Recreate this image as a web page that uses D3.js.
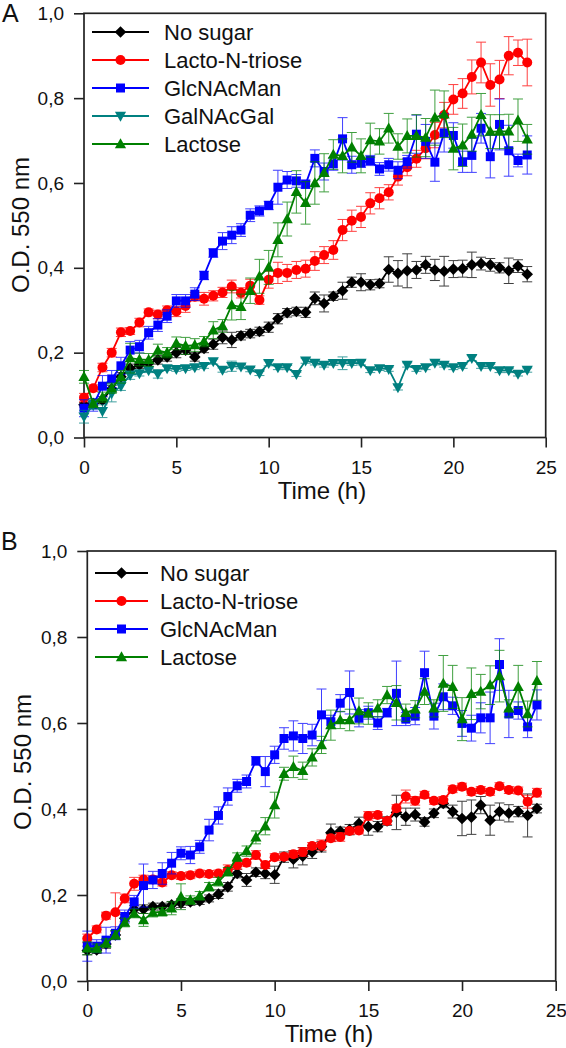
<!DOCTYPE html>
<html>
<head>
<meta charset="utf-8">
<script src="https://cdn.jsdelivr.net/npm/d3@7"></script>
<style>
  html, body { margin: 0; padding: 0; background: #fff; }
  svg { display: block; }
  text { font-family: "Liberation Sans", Arial, sans-serif; fill: #111; }
</style>
</head>
<body>
<script>
// ---------------- DATA ----------------
const time = [0,0.5,1,1.5,2,2.5,3,3.5,4,4.5,5,5.5,6,6.5,7,7.5,8,8.5,9,9.5,10,10.5,11,11.5,12,12.5,13,13.5,14,14.5,15,15.5,16,16.5,17,17.5,18,18.5,19,19.5,20,20.5,21,21.5,22,22.5,23,23.5,24];

const xTicks = [0,5,10,15,20,25];
const xTickLabels = ["0","5","10","15","20","25"];
const yTicks = [0,0.2,0.4,0.6,0.8,1.0];
const yTickLabels = ["0,0","0,2","0,4","0,6","0,8","1,0"];
const xTitle = "Time (h)";
const yTitle = "O.D. 550 nm";

// Panel A
const A_noSugar = [0.077,0.080,0.088,0.115,0.143,0.163,0.171,0.175,0.183,0.190,0.200,0.206,0.190,0.210,0.220,0.236,0.230,0.240,0.245,0.250,0.260,0.280,0.294,0.297,0.295,0.328,0.316,0.333,0.346,0.366,0.366,0.360,0.363,0.396,0.387,0.393,0.395,0.407,0.395,0.392,0.397,0.398,0.407,0.410,0.407,0.400,0.393,0.404,0.385];
const A_noSugarErr = [0.005,0.005,0.008,0.008,0.01,0.01,0.008,0.008,0.01,0.01,0.012,0.01,0.01,0.01,0.012,0.015,0.018,0.01,0.01,0.01,0.012,0.012,0.01,0.01,0.012,0.015,0.02,0.01,0.02,0.012,0.02,0.012,0.01,0.03,0.03,0.04,0.02,0.02,0.025,0.035,0.02,0.02,0.03,0.015,0.015,0.012,0.03,0.015,0.018];

const A_lnt = [0.094,0.116,0.165,0.200,0.248,0.251,0.271,0.295,0.290,0.300,0.297,0.310,0.332,0.327,0.334,0.342,0.356,0.341,0.358,0.324,0.372,0.388,0.388,0.395,0.398,0.416,0.430,0.442,0.489,0.511,0.520,0.552,0.564,0.578,0.615,0.637,0.657,0.682,0.713,0.760,0.797,0.811,0.850,0.884,0.831,0.844,0.900,0.907,0.884];
const A_lntErr = [0.01,0.008,0.01,0.01,0.01,0.008,0.01,0.008,0.01,0.01,0.012,0.015,0.01,0.015,0.012,0.012,0.015,0.012,0.015,0.01,0.02,0.025,0.02,0.02,0.02,0.022,0.02,0.022,0.025,0.025,0.025,0.025,0.025,0.018,0.02,0.02,0.02,0.025,0.03,0.03,0.035,0.035,0.04,0.048,0.05,0.045,0.045,0.03,0.055];

const A_glc = [0.069,0.077,0.121,0.138,0.169,0.206,0.214,0.247,0.265,0.286,0.322,0.322,0.338,0.382,0.435,0.463,0.477,0.489,0.524,0.534,0.547,0.590,0.607,0.605,0.597,0.658,0.627,0.645,0.704,0.643,0.647,0.653,0.633,0.643,0.630,0.650,0.715,0.698,0.649,0.718,0.712,0.650,0.665,0.729,0.662,0.738,0.676,0.653,0.666];
const A_glcErr = [0.02,0.015,0.025,0.02,0.02,0.02,0.015,0.015,0.015,0.015,0.015,0.015,0.015,0.01,0.01,0.02,0.02,0.015,0.015,0.012,0.01,0.04,0.02,0.015,0.01,0.02,0.02,0.015,0.05,0.02,0.01,0.012,0.015,0.015,0.02,0.015,0.045,0.04,0.045,0.045,0.03,0.025,0.04,0.035,0.05,0.06,0.06,0.015,0.045];

const A_gal = [0.049,0.077,0.062,0.104,0.121,0.147,0.151,0.158,0.150,0.163,0.161,0.163,0.165,0.168,0.179,0.159,0.168,0.167,0.160,0.151,0.175,0.165,0.165,0.149,0.181,0.176,0.171,0.175,0.175,0.175,0.176,0.158,0.163,0.161,0.118,0.171,0.161,0.165,0.176,0.171,0.165,0.168,0.187,0.168,0.168,0.158,0.158,0.150,0.159];
const A_galErr = [0.015,0.01,0.015,0.02,0.01,0.01,0.006,0.005,0.01,0.005,0.005,0.005,0.005,0.005,0.006,0.005,0.012,0.005,0.005,0.005,0.006,0.005,0.005,0.005,0.006,0.005,0.005,0.005,0.015,0.005,0.005,0.005,0.005,0.005,0.006,0.005,0.005,0.005,0.005,0.005,0.005,0.005,0.006,0.005,0.005,0.005,0.005,0.005,0.005];

const A_lac = [0.143,0.080,0.095,0.116,0.143,0.187,0.184,0.183,0.205,0.200,0.222,0.216,0.218,0.226,0.253,0.263,0.312,0.308,0.346,0.380,0.401,0.466,0.515,0.579,0.553,0.600,0.624,0.667,0.664,0.684,0.664,0.701,0.698,0.729,0.686,0.711,0.711,0.707,0.754,0.762,0.681,0.689,0.715,0.761,0.721,0.721,0.722,0.748,0.703];
const A_lacErr = [0.015,0.01,0.012,0.012,0.015,0.035,0.015,0.015,0.015,0.012,0.015,0.02,0.015,0.012,0.02,0.015,0.035,0.03,0.03,0.04,0.04,0.04,0.04,0.05,0.05,0.05,0.045,0.035,0.04,0.035,0.04,0.04,0.03,0.035,0.03,0.04,0.05,0.045,0.065,0.055,0.05,0.05,0.04,0.05,0.04,0.04,0.04,0.05,0.035];

// Panel B
const B_noSugar = [0.071,0.072,0.086,0.107,0.146,0.167,0.167,0.173,0.173,0.177,0.181,0.184,0.186,0.192,0.202,0.219,0.250,0.235,0.253,0.250,0.247,0.288,0.283,0.290,0.300,0.312,0.345,0.348,0.352,0.366,0.359,0.359,0.372,0.392,0.382,0.387,0.370,0.390,0.413,0.394,0.378,0.381,0.409,0.374,0.394,0.390,0.394,0.385,0.401];
const B_noSugarErr = [0.01,0.008,0.01,0.01,0.008,0.008,0.01,0.008,0.008,0.008,0.01,0.008,0.008,0.008,0.01,0.01,0.01,0.015,0.01,0.012,0.02,0.012,0.02,0.02,0.015,0.012,0.02,0.01,0.012,0.015,0.02,0.012,0.01,0.04,0.02,0.015,0.01,0.01,0.01,0.015,0.04,0.04,0.02,0.035,0.02,0.02,0.012,0.05,0.01];

const B_lnt = [0.099,0.120,0.152,0.160,0.192,0.226,0.236,0.236,0.229,0.246,0.244,0.246,0.250,0.249,0.250,0.258,0.270,0.275,0.293,0.270,0.288,0.289,0.295,0.300,0.314,0.316,0.332,0.335,0.349,0.350,0.384,0.386,0.372,0.402,0.429,0.419,0.433,0.419,0.421,0.446,0.452,0.440,0.444,0.440,0.453,0.444,0.443,0.417,0.438];
const B_lntErr = [0.01,0.008,0.008,0.045,0.01,0.015,0.01,0.008,0.008,0.008,0.008,0.008,0.008,0.008,0.008,0.012,0.01,0.008,0.01,0.008,0.008,0.008,0.008,0.01,0.008,0.012,0.008,0.01,0.008,0.008,0.01,0.008,0.008,0.008,0.015,0.01,0.008,0.008,0.008,0.008,0.008,0.008,0.008,0.008,0.008,0.008,0.008,0.015,0.01];

const B_glc = [0.081,0.081,0.095,0.111,0.150,0.184,0.222,0.235,0.250,0.274,0.297,0.293,0.312,0.351,0.385,0.429,0.454,0.464,0.512,0.487,0.526,0.564,0.570,0.564,0.572,0.619,0.603,0.646,0.671,0.611,0.624,0.600,0.624,0.669,0.609,0.616,0.717,0.616,0.661,0.640,0.599,0.588,0.612,0.612,0.736,0.621,0.629,0.591,0.642];
const B_glcErr = [0.035,0.015,0.03,0.015,0.015,0.015,0.05,0.02,0.025,0.025,0.015,0.02,0.015,0.025,0.02,0.02,0.015,0.015,0.01,0.035,0.02,0.025,0.035,0.035,0.025,0.06,0.015,0.02,0.05,0.02,0.015,0.015,0.01,0.075,0.015,0.02,0.05,0.03,0.03,0.02,0.03,0.03,0.035,0.06,0.06,0.055,0.02,0.025,0.035];

const B_lac = [0.076,0.076,0.088,0.107,0.136,0.157,0.142,0.159,0.161,0.169,0.196,0.188,0.198,0.219,0.231,0.254,0.288,0.302,0.334,0.360,0.409,0.482,0.498,0.489,0.520,0.549,0.595,0.607,0.607,0.628,0.622,0.634,0.665,0.647,0.624,0.632,0.673,0.634,0.692,0.684,0.609,0.668,0.673,0.688,0.709,0.634,0.684,0.621,0.698];
const B_lacErr = [0.015,0.01,0.01,0.01,0.01,0.01,0.015,0.01,0.01,0.015,0.03,0.01,0.01,0.01,0.01,0.01,0.01,0.012,0.015,0.02,0.03,0.015,0.025,0.02,0.02,0.02,0.035,0.02,0.025,0.03,0.025,0.02,0.02,0.04,0.02,0.02,0.03,0.02,0.065,0.05,0.05,0.06,0.04,0.045,0.06,0.02,0.05,0.03,0.045];

const names = ["No sugar","Lacto-N-triose","GlcNAcMan","GalNAcGal","Lactose"];
const colors = {"No sugar":"#000000","Lacto-N-triose":"#ff0000","GlcNAcMan":"#0000ff","GalNAcGal":"#008080","Lactose":"#008000"};
const shapes = {"No sugar":"diamond","Lacto-N-triose":"circle","GlcNAcMan":"square","GalNAcGal":"triDown","Lactose":"triUp"};

// ---------------- DRAWING ----------------
const svg = d3.select("body").append("svg").attr("width",566).attr("height",1048);

function symbolPath(shape){
  switch(shape){
    case "circle": return "M5,0A5,5 0 1,1 -5,0A5,5 0 1,1 5,0Z";
    case "square": return "M-4.5,-4.5H4.5V4.5H-4.5Z";
    case "diamond": return "M0,-5.8L5.8,0L0,5.8L-5.8,0Z";
    case "triUp": return "M0,-5.8L5.6,4.2L-5.6,4.2Z";
    case "triDown": return "M0,5.8L5.6,-4.2L-5.6,-4.2Z";
  }
}

function drawPanel(cfg){
  const g = svg.append("g");
  const x = d3.scaleLinear().domain([0,25]).range([cfg.L,cfg.R]);
  const y = d3.scaleLinear().domain([0,1]).range([cfg.B,cfg.T]);

  // axes
  const xa = g.append("g").attr("transform",`translate(0,${cfg.B})`)
    .call(d3.axisBottom(x).tickValues(xTicks).tickFormat((d,i)=>xTickLabels[i])
      .tickSize(10).tickPadding(13).tickSizeOuter(0));
  const ya = g.append("g").attr("transform",`translate(${cfg.L},0)`)
    .call(d3.axisLeft(y).tickValues(yTicks).tickFormat((d,i)=>yTickLabels[i])
      .tickSize(10).tickPadding(10).tickSizeOuter(0));
  [xa,ya].forEach(a=>{
    a.select(".domain").remove();
    a.attr("font-family",null).attr("font-size",null);
    a.selectAll(".tick line").attr("stroke","#222").attr("stroke-width",1.6);
    a.selectAll(".tick text").style("font-size","19px").attr("fill","#111");
  });

  // frame
  g.append("rect").attr("x",cfg.L).attr("y",cfg.T)
    .attr("width",cfg.R-cfg.L).attr("height",cfg.B-cfg.T)
    .attr("fill","none").attr("stroke","#222").attr("stroke-width",1.7);

  // series
  const line = d3.line().x(d=>x(d.t)).y(d=>y(d.v));
  cfg.series.forEach(s=>{
    const col = colors[s.name];
    const pts = time.map((t,i)=>({t:t,v:s.values[i],e:s.errors[i]}));
    const sg = g.append("g");
    // error bars
    const eb = sg.append("g").attr("stroke",col).attr("stroke-width",1).attr("opacity",0.75);
    pts.forEach(p=>{
      const xp = x(p.t), yl = y(p.v - p.e), yh = y(p.v + p.e);
      eb.append("line").attr("x1",xp).attr("x2",xp).attr("y1",yl).attr("y2",yh);
      eb.append("line").attr("x1",xp-5).attr("x2",xp+5).attr("y1",yl).attr("y2",yl);
      eb.append("line").attr("x1",xp-5).attr("x2",xp+5).attr("y1",yh).attr("y2",yh);
    });
    sg.append("path").datum(pts).attr("d",line).attr("fill","none")
      .attr("stroke",col).attr("stroke-width",1.8);
    sg.selectAll(".m").data(pts).enter().append("path")
      .attr("transform",d=>`translate(${x(d.t)},${y(d.v)})`)
      .attr("d",symbolPath(shapes[s.name])).attr("fill",col);
  });

  // legend
  cfg.series.forEach((s,i)=>{
    const col = colors[s.name];
    const ry = cfg.legY0 + i*cfg.legDY;
    g.append("line").attr("x1",cfg.legX0).attr("x2",cfg.legX1).attr("y1",ry).attr("y2",ry)
      .attr("stroke",col).attr("stroke-width",1.8);
    g.append("path").attr("transform",`translate(${(cfg.legX0+cfg.legX1)/2},${ry})`)
      .attr("d",symbolPath(shapes[s.name])).attr("fill",col);
    g.append("text").attr("x",cfg.legTX).attr("y",ry+8).style("font-size","22px").text(s.name);
  });

  // titles
  g.append("text").attr("x",cfg.xTitleX).attr("y",cfg.B+61).attr("text-anchor","middle")
    .style("font-size","24px").text(xTitle);
  g.append("text").attr("transform",`translate(${cfg.yTitleX},${cfg.yTitleY}) rotate(-90)`)
    .attr("text-anchor","middle").style("font-size","24px").text(yTitle);
  g.append("text").attr("x",cfg.letterX).attr("y",cfg.letterY).style("font-size","25px").text(cfg.letter);
}

drawPanel({
  L:84, R:545.7, T:13.3, B:437.5,
  series:[
    {name:names[0], values:A_noSugar, errors:A_noSugarErr},
    {name:names[1], values:A_lnt, errors:A_lntErr},
    {name:names[2], values:A_glc, errors:A_glcErr},
    {name:names[3], values:A_gal, errors:A_galErr},
    {name:names[4], values:A_lac, errors:A_lacErr}
  ],
  legY0:32, legDY:28, legX0:92, legX1:149, legTX:164,
  xTitleX:322, yTitleX:29, yTitleY:225,
  letter:"A", letterX:2, letterY:22
});

drawPanel({
  L:87.3, R:555.7, T:551, B:981,
  series:[
    {name:names[0], values:B_noSugar, errors:B_noSugarErr},
    {name:names[1], values:B_lnt, errors:B_lntErr},
    {name:names[2], values:B_glc, errors:B_glcErr},
    {name:names[4], values:B_lac, errors:B_lacErr}
  ],
  legY0:573, legDY:28, legX0:95, legX1:148, legTX:160,
  xTitleX:329, yTitleX:31, yTitleY:762,
  letter:"B", letterX:1, letterY:550
});
</script>
</body>
</html>
